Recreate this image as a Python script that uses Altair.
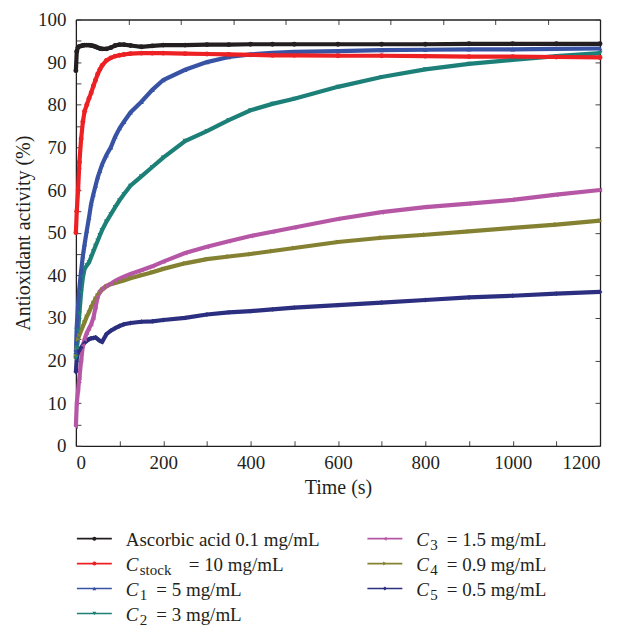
import altair as alt
import pandas as pd

# ---------------- data ----------------
TIME = [0, 2, 5, 8, 12, 16, 20, 25, 30, 35, 40, 45, 50, 55, 60, 70, 80, 90, 100, 110,
        125, 150, 175, 200, 250, 300, 350, 400, 450, 500, 600, 700, 800, 900, 1000, 1100, 1200]

ASCORBIC = [88.0, 92.5, 93.5, 93.7, 93.8, 93.9, 94.0, 94.0, 94.0, 93.9,
            93.8, 93.6, 93.4, 93.2, 93.1, 93.1, 93.4, 93.9, 94.1, 94.1,
            93.9, 93.6, 93.8, 94.0, 94.0, 94.1, 94.1, 94.2, 94.2, 94.2,
            94.2, 94.2, 94.2, 94.3, 94.3, 94.3, 94.3]
C_STOCK = [50.0, 55.0, 60.0, 66.5, 72.0, 76.0, 78.5, 80.0, 81.5, 82.8,
           84.4, 85.8, 87.2, 88.3, 89.2, 90.4, 91.0, 91.4, 91.6, 91.8,
           92.0, 92.1, 92.1, 92.1, 92.0, 91.9, 91.8, 91.7, 91.6, 91.6,
           91.5, 91.5, 91.4, 91.3, 91.3, 91.2, 91.1]
C1 = [22.0, 28.0, 33.0, 37.0, 41.0, 44.5, 47.3, 50.5, 53.5, 56.8,
      59.0, 61.0, 63.0, 64.5, 66.0, 68.2, 70.0, 72.5, 74.5, 76.0,
      78.2, 80.7, 83.5, 85.8, 88.2, 90.0, 91.2, 91.8, 92.2, 92.4,
      92.6, 92.8, 92.9, 93.0, 93.0, 93.1, 93.2]
C2 = [20.5, 23.0, 27.0, 31.0, 36.0, 39.5, 41.5, 42.3, 43.0, 44.3,
      45.6, 46.9, 48.1, 49.4, 50.6, 52.6, 54.3, 56.0, 57.6, 59.0,
      61.0, 63.2, 65.4, 67.6, 71.5, 73.8, 76.4, 78.7, 80.2, 81.4,
      84.2, 86.5, 88.3, 89.6, 90.5, 91.4, 92.1]
C3 = [4.5, 10.0, 13.0, 16.0, 20.0, 23.5, 25.0, 26.5, 27.5, 28.5,
      30.0, 32.5, 35.0, 36.2, 36.8, 37.5, 38.0, 38.7, 39.2, 39.7,
      40.3, 41.2, 42.1, 43.2, 45.2, 46.7, 48.0, 49.2, 50.2, 51.2,
      53.2, 54.8, 56.0, 56.8, 57.7, 58.9, 60.0]
C4 = [21.0, 23.0, 25.0, 26.0, 27.0, 28.0, 29.0, 30.3, 31.3, 32.5,
      33.5, 34.5, 35.3, 36.0, 36.6, 37.4, 37.9, 38.2, 38.5, 38.8,
      39.3, 40.0, 40.7, 41.5, 42.8, 43.8, 44.4, 45.0, 45.7, 46.4,
      47.8, 48.8, 49.5, 50.3, 51.1, 51.9, 52.8]
C5 = [17.3, 20.5, 21.8, 22.3, 23.0, 23.6, 24.2, 24.6, 25.0, 25.2,
      25.3, 25.4, 25.0, 24.6, 24.4, 26.2, 27.0, 27.6, 28.1, 28.5,
      28.8, 29.1, 29.2, 29.5, 30.0, 30.8, 31.3, 31.6, 32.0, 32.4,
      33.0, 33.6, 34.2, 34.8, 35.2, 35.7, 36.1]

KEYS = ["asc", "stock", "c1", "c2", "c3", "c4", "c5"]
SERIES = [ASCORBIC, C_STOCK, C1, C2, C3, C4, C5]
COLORS = ["#231f20", "#ed2024", "#3853a4", "#1d8078", "#b657a6", "#848232", "#2c2e7f"]
SHAPES = ["circle", "circle", "triangle-up", "triangle-down", "triangle-left",
          "triangle-right", "diamond"]

# legend entries
LEG_COL = [0, 0, 0, 0, 1, 1, 1]
LEG_ROW = [0, 1, 2, 3, 0, 1, 2]
LEG_PLAIN = ["Ascorbic acid 0.1 mg/mL", "", "", "", "", "", ""]
LEG_SUB = ["", "stock", "1", "2", "3", "4", "5"]
LEG_REST = ["", "= 10 mg/mL", "= 5 mg/mL", "= 3 mg/mL", "= 1.5 mg/mL",
            "= 0.9 mg/mL", "= 0.5 mg/mL"]

X_TICKS = list(range(0, 1201, 100))
Y_TICKS = list(range(0, 101, 5))
TOP_TICKS = list(range(0, 1201, 120))
RIGHT_TICKS = list(range(0, 101, 10))

# ---------------- tables ----------------
rows = []
for order, (k, vals) in reversed(list(enumerate(zip(KEYS, SERIES)))):
    for t, v in zip(TIME, vals):
        rows.append({"s": k, "t": t, "v": v})
df = pd.DataFrame(rows)

leg = pd.DataFrame({"s": KEYS, "col": LEG_COL, "row": LEG_ROW, "plain": LEG_PLAIN,
                    "sub": LEG_SUB, "rest": LEG_REST})

FONT = "Liberation Serif"
INK = "#231f20"
color_scale = alt.Scale(domain=KEYS, range=COLORS)
shape_scale = alt.Scale(domain=KEYS, range=SHAPES)
xs = alt.Scale(domain=[0, 1200], nice=False, zero=False)
ys = alt.Scale(domain=[0, 100], nice=False)
TICK_IN = {"expr": "-5"}

x_bottom = alt.X("t:Q", scale=xs, title="Time (s)",
                 axis=alt.Axis(values=X_TICKS, tickSize=TICK_IN, labelPadding=13, format="d",
                               labelExpr="datum.value % 200 === 0 ? datum.label : ''",
                               titlePadding=5))
y_left = alt.Y("v:Q", scale=ys, title="Antioxidant activity (%)",
               axis=alt.Axis(values=Y_TICKS, tickSize=TICK_IN, labelPadding=15, format="d",
                             labelExpr="datum.value % 10 === 0 ? datum.label : ''",
                             titlePadding=4))

base = alt.Chart(df)
lines = base.mark_line(strokeWidth=4.2).encode(
    x=x_bottom, y=y_left,
    color=alt.Color("s:N", scale=color_scale, legend=None),
    order=alt.Order("t:Q"),
)
points = base.mark_point(filled=True, size=24, opacity=1).encode(
    x=alt.X("t:Q", scale=xs, axis=None),
    y=alt.Y("v:Q", scale=ys, axis=None),
    color=alt.Color("s:N", scale=color_scale, legend=None),
    shape=alt.Shape("s:N", scale=shape_scale, legend=None),
)
frame = base.mark_point(opacity=0).encode(
    x=alt.X("t:Q", scale=xs, title=None,
            axis=alt.Axis(orient="top", values=TOP_TICKS, labels=False, tickSize=TICK_IN)),
    y=alt.Y("v:Q", scale=ys, title=None,
            axis=alt.Axis(orient="right", values=RIGHT_TICKS, labels=False, tickSize=TICK_IN)),
)
main = alt.layer(lines, points, frame).resolve_axis(x="independent", y="independent").properties(
    width=525, height=427)

# ---------------- legend panel ----------------
lx = alt.X("col:Q", scale=alt.Scale(domain=[0, 1], range=[18.5, 309.5]), axis=None)
ly = alt.Y("row:Q", scale=alt.Scale(domain=[0, 3], range=[31, 106]), axis=None)
lcolor = alt.Color("s:N", scale=color_scale, legend=None)
lbase = alt.Chart(leg)
l_rule = lbase.mark_rule(strokeWidth=1.6, xOffset=-17.5, x2Offset=17.5).encode(
    x=lx, x2="col:Q", y=ly, color=lcolor)
l_pt = lbase.mark_point(filled=True, size=16, opacity=1).encode(
    x=lx, y=ly, color=lcolor, shape=alt.Shape("s:N", scale=shape_scale, legend=None))
TXT = dict(font=FONT, color=INK, align="left", baseline="alphabetic")
l_plain = lbase.transform_filter("datum.plain != ''").mark_text(
    fontSize=19, dx=31.5, dy=7.5, **TXT).encode(x=lx, y=ly, text="plain:N")
l_c = lbase.transform_filter("datum.sub != ''").mark_text(
    fontSize=19, fontStyle="italic", dx=31.5, dy=7.5, text="C", **TXT).encode(x=lx, y=ly)
l_sub = lbase.transform_filter("datum.sub != ''").mark_text(
    fontSize=15, dx=45.5, dy=11.5, **TXT).encode(x=lx, y=ly, text="sub:N")
l_rest1 = lbase.transform_filter("datum.sub != '' && datum.sub != 'stock'").mark_text(
    fontSize=19, dx=62, dy=7.5, **TXT).encode(x=lx, y=ly, text="rest:N")
l_rest2 = lbase.transform_filter("datum.sub == 'stock'").mark_text(
    fontSize=19, dx=94.5, dy=7.5, **TXT).encode(x=lx, y=ly, text="rest:N")
legend = alt.layer(l_rule, l_pt, l_plain, l_c, l_sub, l_rest1, l_rest2).properties(
    width=500, height=120)

chart = alt.vconcat(main, legend, spacing=10).properties(
    padding={"left": 5, "top": 2, "right": 0, "bottom": 0}, background="white"
).configure_view(stroke=None).configure_axis(
    grid=False, domainColor=INK, domainWidth=1.3, tickColor="#444", tickWidth=1,
    labelFont=FONT, labelFontSize=19, labelColor=INK,
    titleFont=FONT, titleFontSize=20, titleFontWeight="normal", titleColor=INK,
)

chart.save("out.html", embed_options={"renderer": "svg", "actions": False})
